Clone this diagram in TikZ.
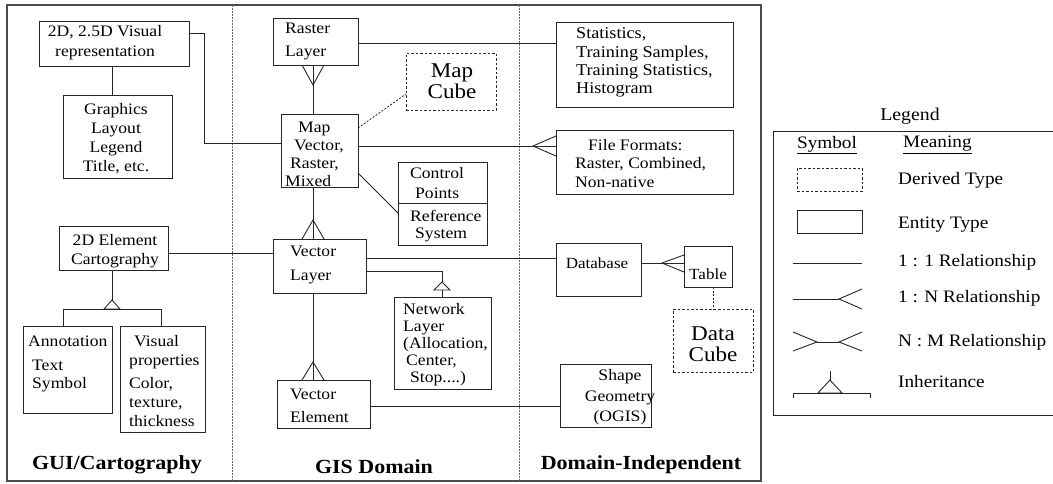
\documentclass[tikz,border=0pt]{standalone}
\usepackage{fontspec}
\setmainfont{Liberation Serif}[FakeStretch=1.1]
\usetikzlibrary{calc,fit}
\tikzset{
  ln/.style={line width=0.9pt, draw=black!85},
  dl/.style={line width=0.8pt, draw=black!85, dash pattern=on 2pt off 1.6pt},
  ent/.style={draw=black!85, line width=0.9pt, inner sep=0pt, outer sep=0pt, fit={#1}},
  der/.style={draw=black!85, line width=0.9pt, dash pattern=on 2.5pt off 2pt, inner sep=0pt, outer sep=0pt, fit={#1}},
  tx/.style={font=\fontsize{16}{#1}\selectfont, inner sep=0pt, align=left, anchor=west},
  txc/.style={font=\fontsize{16}{#1}\selectfont, inner sep=0pt, align=center, anchor=center},
  big/.style={font=\fontsize{21}{20.5}\selectfont, inner sep=0pt, align=center, anchor=center},
  lab/.style={font=\fontsize{20}{22}\selectfont\bfseries, inner sep=0pt, anchor=center},
  lg/.style={font=\fontsize{17.5}{20}\selectfont, inner sep=0pt, anchor=west},
}
\begin{document}
\begin{tikzpicture}[x=1pt,y=-1pt]
\useasboundingbox (0,0) rectangle (1053,483);
% frame and dividers
\node[ent={(7,5)(761,481)}, draw=black!70, line width=1.1pt] (frame) {};
\draw[line width=0.9pt, draw=black!60, dash pattern=on 1.5pt off 1.5pt] (frame.north -| 232,0) -- (frame.south -| 232,0);
\draw[line width=0.9pt, draw=black!60, dash pattern=on 1.5pt off 1.5pt] (frame.north -| 519,0) -- (frame.south -| 519,0);

% ---------- left column ----------
\node[ent={(39,21)(189,66)}] (vis) {};
\node[txc=20] (tvis) at (105,43) {2D, 2.5D Visual\\representation};
\node[ent={(63,95)(172,178)}] (graph) {};
\node[txc=19] (tgraph) at (116,138.5) {Graphics\\Layout\\Legend\\Title, etc.};
\node[ent={(59,226)(168,270)}] (elem) {};
\node[txc=19] (telem) at (115,251.5) {2D Element\\Cartography};
\node[ent={(23,326)(112,413)}] (annot) {};
\node[tx=18] (tannot) at (28,364) {Annotation\\[6pt]\hspace*{4pt}Text\\\hspace*{4pt}Symbol};
\node[ent={(120,326)(205,432)}] (visual) {};
\node[tx=19] (tvisual) at (129,381) {\hspace*{5pt}Visual\\properties\\[4pt]Color,\\texture,\\thickness};
\node[lab] (gui) at (117,465) {GUI/Cartography};

% ---------- middle column ----------
\node[ent={(273,18)(358,65)}] (raster) {};
\node[tx=23] (traster) at (285,41.5) {Raster\\Layer};
\node[der={(406,53)(496,110)}] (mapcube) {};
\node[big] (tmapcube) at (452,81) {Map\\Cube};
\node[ent={(281,114)(358,187)}] (map) {};
\node[tx=18] (tmap) at (285,154) {\hspace*{13pt}Map\\\hspace*{9pt}Vector,\\\hspace*{5pt}Raster,\\Mixed};
\node[ent={(398,162)(487,203)}] (ctrl) {};
\node[ent={(398,203)(487,245)}] (refsys) {};
\node[tx=20] (tctrl) at (410,183) {Control\\\hspace*{5pt}Points};
\node[tx=17] (trefsys) at (410,226.5) {Reference\\\hspace*{5pt}System};
\node[ent={(273,239)(366,293)}] (vlayer) {};
\node[tx=24] (tvlayer) at (290,265) {Vector\\Layer};
\node[ent={(394,297)(491,389)}] (net) {};
\node[tx=17] (tnet) at (403,345) {Network\\Layer\\(Allocation,\\\hspace*{3pt}Center,\\\hspace*{7pt}Stop....)};
\node[ent={(277,380)(370,428)}] (velem) {};
\node[tx=23] (tvelem) at (290,405.5) {Vector\\Element};
\node[lab] (gis) at (374,467) {GIS Domain};

% ---------- right column ----------
\node[ent={(556,22)(733,107)}] (stats) {};
\node[tx=18.3, font=\fontsize{16.5}{18.3}\selectfont] (tstats) at (576,62.5) {Statistics,\\Training Samples,\\Training Statistics,\\Histogram};
\node[ent={(556,130)(733,194)}] (ff) {};
\node[tx=18.5] (tff) at (575,163.5) {\hspace*{13pt}File Formats:\\Raster, Combined,\\Non-native};
\node[ent={(556,243)(641,296)}] (db) {};
\node[txc=19, font=\fontsize{15.5}{19}\selectfont] (tdb) at (597,263) {Database};
\node[ent={(684,246)(732,287)}] (table) {};
\node[txc=19, font=\fontsize{15.5}{19}\selectfont] (ttable) at (708,274) {Table};
\node[der={(673,309)(753,372)}] (datacube) {};
\node[big] (tdatacube) at (713,344) {Data\\Cube};
\node[ent={(560,364)(651,427)}] (shape) {};
\node[txc=20.5] (tshape) at (620,397.5) {Shape\\Geometry\\(OGIS)};
\node[lab] (di) at (641,465) {Domain-Independent};

% ---------- connectors ----------
\draw[ln] (vis.east |- 0,33) -- (204,33) |- (map.west |- 0,143);
\draw[ln] (vis.south -| 112,0) -- (graph.north -| 112,0);
\draw[ln] (elem.east |- 0,253) -- (vlayer.west |- 0,253);
% inheritance 2D element
\draw[ln] (elem.south -| 112,0) -- (112,300);
\draw[ln, fill=white] (112,300) -- (104,309) -- (120,309) -- cycle;
\draw[ln] (annot.north -| 63,0) -- (63,309) -- (161,309) -- (visual.north -| 161,0);
% raster - map (crow's foot at raster)
\draw[ln] (map.north -| 313,0) -- (raster.south -| 313,0);
\draw[ln] ($(raster.south -| 313,0)+(-11,0)$) -- ($(raster.south -| 313,0)+(0,20)$) -- ($(raster.south -| 313,0)+(11,0)$);
\draw[ln] (raster.east |- 0,43) -- (stats.west |- 0,43);
\draw[dl] (map.east |- 0,128) -- (mapcube.west |- 0,94);
% map - file formats
\draw[ln] (map.east |- 0,146) -- (ff.west |- 0,146);
\draw[ln] ($(ff.west |- 0,146)+(0,-10)$) -- ($(ff.west |- 0,146)+(-23,0)$) -- ($(ff.west |- 0,146)+(0,10)$);
\draw[ln] (map.east |- 0,173) -- (refsys.west |- 0,213);
% map - vector layer
\draw[ln] (map.south -| 313,0) -- (vlayer.north -| 313,0);
\draw[ln] ($(vlayer.north -| 313,0)+(-11,0)$) -- ($(vlayer.north -| 313,0)+(0,-19)$) -- ($(vlayer.north -| 313,0)+(11,0)$);
\draw[ln] (vlayer.east |- 0,258) -- (db.west |- 0,258);
% network inheritance
\draw[ln] (vlayer.east |- 0,271) -- (442,271) -- (442,282);
\draw[ln, fill=white] (442,282) -- (434,290) -- (450,290) -- cycle;
\draw[ln] (442,290) -- (net.north -| 442,0);
% vector layer - vector element
\draw[ln] (vlayer.south -| 313,0) -- (velem.north -| 313,0);
\draw[ln] ($(velem.north -| 313,0)+(-11,0)$) -- ($(velem.north -| 313,0)+(0,-18)$) -- ($(velem.north -| 313,0)+(11,0)$);
\draw[ln] (velem.east |- 0,406) -- (shape.west |- 0,406);
% database - table
\draw[ln] (db.east |- 0,263) -- (table.west |- 0,263);
\draw[ln] ($(table.west |- 0,263)+(0,-8)$) -- ($(table.west |- 0,263)+(-22,0)$) -- ($(table.west |- 0,263)+(0,9)$);
\draw[dl] (table.south -| 713,0) -- (datacube.north -| 713,0);

% ---------- legend ----------
\node[font=\fontsize{18}{20}\selectfont, inner sep=0pt] (legtitle) at (910,116) {Legend};
\node[ent={(773,131)(1060,415)}] (legbox) {};
\node[font=\fontsize{17.5}{20}\selectfont, inner sep=0pt] (lsym) at (827,145) {\underline{Symbol}};
\node[lg] (lmean) at (903,145) {\underline{Meaning}};
\node[der={(797,168)(862,191)}] (lder) {};
\node[lg] (tlder) at (898,180) {Derived Type};
\node[ent={(797,210)(862,233)}] (lent) {};
\node[lg] (tlent) at (898,225) {Entity Type};
\coordinate (l1a) at (793,263); \coordinate (l1b) at (862,263);
\draw[ln] (l1a) -- (l1b);
\node[lg] (tl11) at (898,262) {1 : 1 Relationship};
\coordinate (l2a) at (793,299); \coordinate (l2j) at (839,299);
\draw[ln] (l2a) -- (l2j);
\draw[ln] ($(l2j)+(23,-10)$) -- (l2j) -- ($(l2j)+(23,10)$);
\node[lg] (tl1n) at (898,298) {1 : N Relationship};
\coordinate (l3a) at (817,342); \coordinate (l3b) at (839,342);
\draw[ln] (l3a) -- (l3b);
\draw[ln] ($(l3a)+(-24,-10)$) -- (l3a) -- ($(l3a)+(-24,9)$);
\draw[ln] ($(l3b)+(23,-10)$) -- (l3b) -- ($(l3b)+(23,9)$);
\node[lg] (tlnm) at (898,342) {N : M Relationship};
\coordinate (l4t) at (830,371);
\draw[ln] (l4t) -- ++(0,9);
\draw[ln] (830,380) -- (818,393) -- (842,393) -- cycle;
\draw[ln] (793,398) -- (793,393) -- (870,393) -- (870,398);
\node[lg] (tlinh) at (898,382) {Inheritance};
\end{tikzpicture}
\end{document}
